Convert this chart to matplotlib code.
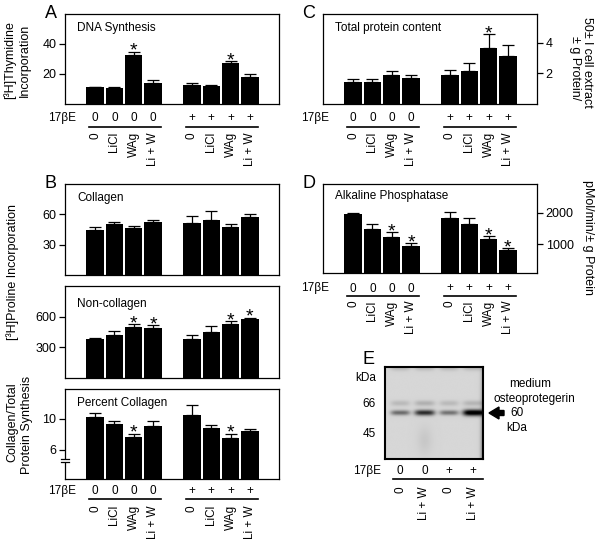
import numpy as np
import matplotlib
matplotlib.use("Agg")
import matplotlib.pyplot as plt
from matplotlib import transforms
from matplotlib.lines import Line2D

plt.rcParams['font.family'] = ['Liberation Sans', 'DejaVu Sans']
plt.rcParams['font.size'] = 8.5

W, H = 600, 545

# ---- data ----
treatments = ['0', 'LiCl', 'WAg', 'Li + W', '0', 'LiCl', 'WAg', 'Li + W']
estradiol = ['0', '0', '0', '0', '+', '+', '+', '+']

dna = [11.1, 11.0, 32.7, 14.2, 12.9, 12.2, 27.6, 17.8]
dna_err = [0.5, 0.5, 2.2, 1.8, 0.9, 0.5, 1.1, 2.2]
dna_sig = [2, 6]

protein = [1.46, 1.44, 1.90, 1.70, 1.90, 2.18, 3.65, 3.13]
protein_err = [0.16, 0.20, 0.26, 0.18, 0.33, 0.49, 0.92, 0.72]
protein_sig = [6]

collagen = [45.0, 50.5, 46.3, 52.2, 51.2, 54.1, 47.6, 57.4]
collagen_err = [2.9, 2.0, 2.6, 2.6, 7.5, 9.8, 3.2, 2.6]
collagen_sig = []

noncollagen = [378, 421, 499, 486, 381, 443, 522, 571]
noncollagen_err = [10, 39, 29, 30, 33, 63, 33, 19]
noncollagen_sig = [2, 3, 6, 7]

pct_collagen = [10.2, 9.35, 7.68, 9.05, 10.5, 8.75, 7.55, 8.36]
pct_collagen_err = [0.57, 0.30, 0.38, 0.60, 1.30, 0.47, 0.51, 0.35]
pct_collagen_sig = [2, 6]

alp = [1955, 1486, 1240, 942, 1847, 1655, 1156, 815]
alp_err = [51, 159, 140, 87, 191, 192, 96, 54]
alp_sig = [2, 3, 6, 7]

blot_lanes = ['0', 'Li + W', '0', 'Li + W']
blot_e2 = ['0', '0', '+', '+']
blot_band = [0.45, 0.72, 0.42, 1.0]     # OPG band darkness per lane
blot_upper = [0.12, 0.16, 0.12, 0.14]   # faint ~66 kDa band
marker_kda = [66, 45]

xpos = np.r_[0:4, 5:9]

fig = plt.figure(figsize=(W / 100, H / 100), dpi=100, facecolor='white')


def add_ax(l, t, r, b):
    return fig.add_axes([l / W, 1 - b / H, (r - l) / W, (b - t) / H])


def ftext(x, y, s, **kw):
    return fig.text(x / W, 1 - y / H, s, **kw)


def bar_panel(ax, vals, errs, sig, ylim, yticks, title, title_y, right=False):
    ax.bar(xpos, vals, width=0.9, color='black')
    ax.errorbar(xpos, vals, yerr=[np.zeros(len(vals)), errs], fmt='none',
                ecolor='black', elinewidth=0.9, capsize=4, capthick=0.9)
    for i in sig:
        ax.annotate('*', (xpos[i], vals[i] + errs[i]), xytext=(0, -3),
                    textcoords='offset points', ha='center', va='baseline',
                    fontsize=14)
    ax.set_xlim(-1.55, 9.5)
    ax.set_ylim(*ylim)
    ax.set_xticks([])
    ax.set_yticks(yticks)
    ax.tick_params(axis='y', direction='out', length=4.3, width=0.9,
                   labelsize=9, pad=2)
    for s in ax.spines.values():
        s.set_linewidth(0.9)
    if right:
        ax.yaxis.tick_right()
    bb = ax.get_position()
    ftext(bb.x0 * W + 12, title_y, title, ha='left', va='baseline', fontsize=8.5)


def cond_labels(ax, x17, y17, yline, ylab, xs, marks, labels, spans):
    tr = transforms.blended_transform_factory(ax.transData, fig.transFigure)
    ftext(x17, y17, '17\u03b2E', ha='center', va='center')
    for x, m, lab in zip(xs, marks, labels):
        fig.text(x, 1 - y17 / H, m, transform=tr, ha='center', va='center')
        fig.text(x, 1 - ylab / H, lab, transform=tr, ha='center', va='top',
                 rotation=90)
    for a, b in spans:
        fig.add_artist(Line2D([a, b], [1 - yline / H] * 2, transform=tr,
                              color='black', lw=1.2))


# ---- A ----
axA = add_ax(65, 14, 279, 104)
bar_panel(axA, dna, dna_err, dna_sig, (0, 60), [20, 40], 'DNA Synthesis', 31.5)
cond_labels(axA, 62, 118, 127, 132, xpos, estradiol, treatments,
            [(-0.3, 3.4), (4.7, 8.4)])
ftext(10, 60, '[\u00b3H]Thymidine', rotation=90, ha='center', va='center',
      fontsize=9)
ftext(25, 60, 'Incorporation', rotation=90, ha='center', va='center',
      fontsize=9)
ftext(45, 18.3, 'A', fontsize=13, ha='left', va='baseline')

# ---- C ----
axC = add_ax(323, 14, 537, 104)
bar_panel(axC, protein, protein_err, protein_sig, (0, 5.9), [2, 4],
          'Total protein content', 30.7, right=True)
cond_labels(axC, 315, 118, 127, 132, xpos, estradiol, treatments,
            [(-0.3, 3.4), (4.7, 8.4)])
ftext(575, 68, '\u00b1 g Protein/', rotation=-90, ha='center', va='center',
      fontsize=9)
ftext(587, 62, '50\u00b1 l cell extract', rotation=-90, ha='center',
      va='center', fontsize=9)
ftext(302, 18.3, 'C', fontsize=13, ha='left', va='baseline')

# ---- B ----
axB1 = add_ax(65, 184, 279, 275.5)
bar_panel(axB1, collagen, collagen_err, collagen_sig, (0, 90), [30, 60],
          'Collagen', 200.7)
axB2 = add_ax(65, 286, 279, 377.5)
bar_panel(axB2, noncollagen, noncollagen_err, noncollagen_sig, (0, 900),
          [300, 600], 'Non-collagen', 306.7)
axB3 = add_ax(65, 388.5, 279, 479)
bar_panel(axB3, pct_collagen, pct_collagen_err, pct_collagen_sig, (2.2, 13.9),
          [6, 10], 'Percent Collagen', 405.7)
cond_labels(axB3, 62, 491, 499.3, 505, xpos, estradiol, treatments,
            [(-0.3, 3.4), (4.7, 8.4)])
# axis break marks
fig.add_artist(plt.Rectangle((62 / W, 1 - 461.5 / H), 6 / W, 2.2 / H,
                             transform=fig.transFigure, color='white', lw=0))
for yb in (459.3, 461.8):
    fig.add_artist(Line2D([61.5 / W, 69 / W], [1 - yb / H] * 2,
                          transform=fig.transFigure, color='black', lw=0.9))
ftext(13, 272, '[\u00b3H]Proline Incorporation', rotation=90, ha='center',
      va='center', fontsize=9)
ftext(12, 422, 'Collagen/Total', rotation=90, ha='center', va='center',
      fontsize=9)
ftext(27, 425, 'Protein Synthesis', rotation=90, ha='center', va='center',
      fontsize=9)
ftext(45, 188.3, 'B', fontsize=13, ha='left', va='baseline')

# ---- D ----
axD = add_ax(323, 184, 537, 273.5)
bar_panel(axD, alp, alp_err, alp_sig, (70, 2920), [1000, 2000],
          'Alkaline Phosphatase', 199.3, right=True)
cond_labels(axD, 315, 288.5, 296, 300.5, xpos, estradiol, treatments,
            [(-0.3, 3.4), (4.7, 8.4)])
ftext(588, 238, 'pMol/min/\u00b1 g Protein', rotation=-90, ha='center',
      va='center', fontsize=9)
ftext(302, 188.3, 'D', fontsize=13, ha='left', va='baseline')

# ---- E (western blot) ----
axE = add_ax(385, 367.3, 483.3, 459.3)
x0, x1 = -0.62, 3.42
gx = np.linspace(x0, x1, 200)
gy = np.linspace(0, 1, 190)
X, Y = np.meshgrid(gx, gy)
# y position (axes fraction) from log molecular weight, two markers
ym = {66: 0.60, 45: 0.27}
slope = (ym[66] - ym[45]) / np.log(66 / 45)
y60 = ym[66] - slope * np.log(66 / 60) - 0.02
dark = np.zeros_like(X)
for i, (b, u) in enumerate(zip(blot_band, blot_upper)):
    hw = 0.36 + 0.08 * b
    prof = np.exp(-((X - i) / hw) ** 4)
    dark += b * prof * np.exp(-((Y - y60) / (0.022 + 0.012 * b)) ** 2)
    dark += u * prof * np.exp(-((Y - ym[66]) / 0.03) ** 2)
    dark += 0.12 * prof * np.exp(-((Y - 0.98) / 0.03) ** 2)
dark += 0.4 * np.exp(-((X - x1) / 0.13) ** 2) * (1 - 0.6 * Y)
dark += 0.06 * np.exp(-((X - 1) / 0.3) ** 2) * np.exp(-((Y - 0.2) / 0.15) ** 2)
img = np.clip(0.84 - 0.95 * dark, 0, 1)
axE.imshow(img, cmap='gray', vmin=0, vmax=1, extent=(x0, x1, 0, 1),
           origin='lower', aspect='auto', interpolation='bilinear')
axE.set_xlim(x0, x1)
axE.set_ylim(0, 1)
axE.set_xticks([])
axE.set_yticks([])
for s in axE.spines.values():
    s.set_linewidth(1.5)
ftext(366, 378, 'kDa', ha='center', va='center')
for k in marker_kda:
    ftext(369, 459.3 - ym[k] * 92, str(k), ha='center', va='center')
cond_labels(axE, 367, 470.7, 479, 486.5, np.arange(4), blot_e2, blot_lanes,
            [(-0.29, x1)])
fig.patches.append(plt.Polygon([[489 / W, 1 - 413 / H], [499 / W, 1 - 407 / H],
                                [499 / W, 1 - 410.5 / H], [504 / W, 1 - 410.5 / H],
                                [504 / W, 1 - 415.5 / H], [499 / W, 1 - 415.5 / H],
                                [499 / W, 1 - 419 / H]],
                               closed=True, transform=fig.transFigure,
                               color='black'))
ftext(530, 384, 'medium', ha='center', va='center')
ftext(534, 399, 'osteoprotegerin', ha='center', va='center')
ftext(517, 413, '60', ha='center', va='center')
ftext(517, 428, 'kDa', ha='center', va='center')
ftext(363, 364.5, 'E', fontsize=13, ha='left', va='baseline')

fig.savefig('out.png', dpi=100, facecolor='white')
